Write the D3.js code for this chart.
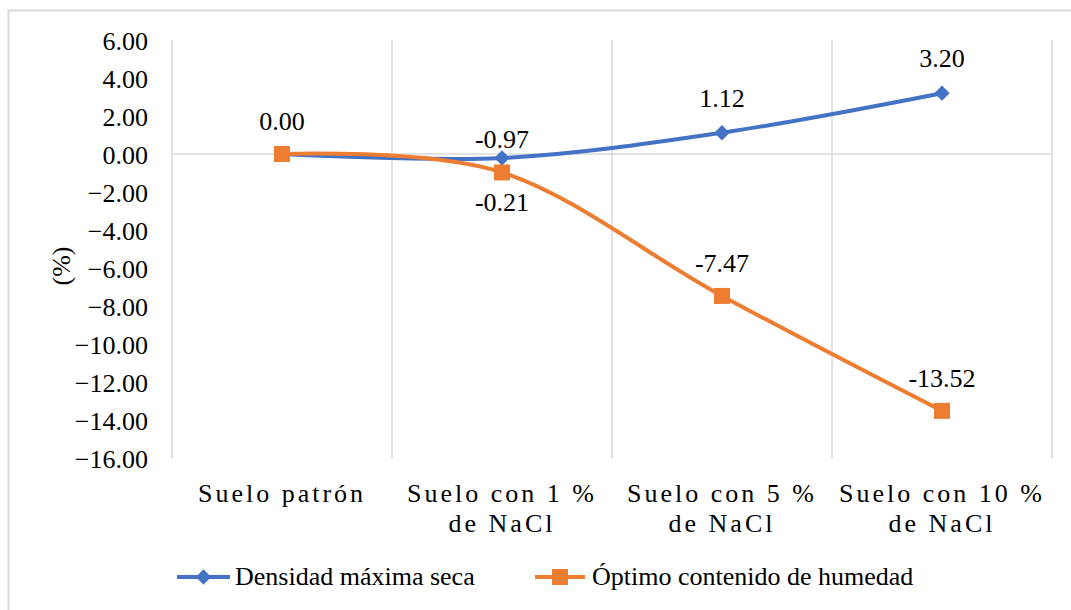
<!DOCTYPE html>
<html><head><meta charset="UTF-8"></head>
<body style="margin:0">
    <script src="https://d3js.org/d3.v7.min.js"></script>
    <svg width="1071" height="610"></svg>
    <script>
        let svg = d3.select("svg");

        // chart data
        let categories = ["Suelo patrón", "Suelo con 1 %|de NaCl", "Suelo con 5 %|de NaCl", "Suelo con 10 %|de NaCl"];
        let densidad = [0.00, -0.21, 1.12, 3.20];
        let humedad = [0.00, -0.97, -7.47, -13.52];
        let densidadLabels = ["0.00", "-0.21", "1.12", "3.20"];
        let humedadLabels = ["0.00", "-0.97", "-7.47", "-13.52"];
        let yTicks = [6, 4, 2, 0, -2, -4, -6, -8, -10, -12, -14, -16];
        let seriesNames = ["Densidad máxima seca", "Óptimo contenido de humedad"];

        let blue = "#4472C4", orange = "#ED7D31", grid = "#d9d9d9";

        // every text gets the same serif face (set on each element)
        function styleText(sel) {
            return sel.style("font-family", "Liberation Serif").style("font-size", "26px").style("fill", "#000");
        }

        // outer frame
        svg.append("rect")
            .attr("x", 8.5).attr("y", 10.5)
            .attr("width", 1100).attr("height", 700)
            .attr("fill", "none").attr("stroke", grid).attr("stroke-width", 2);

        let plotLeft = 172, plotRight = 1052, plotTop = 40, plotBottom = 458;

        let x = d3.scaleBand().domain(categories).range([plotLeft, plotRight]);
        let y = d3.scaleLinear().domain([-16, 6]).range([plotBottom, plotTop]);
        let cx = d => x(d) + x.bandwidth() / 2;

        // vertical gridlines at category boundaries
        let bounds = categories.map(c => x(c)).concat([plotRight]);
        svg.append("g").selectAll("line")
            .data(bounds).enter().append("line")
            .attr("x1", d => d).attr("x2", d => d)
            .attr("y1", plotTop).attr("y2", plotBottom)
            .attr("stroke", grid).attr("stroke-width", 1.5);

        // category axis line at zero
        svg.append("line")
            .attr("x1", plotLeft).attr("x2", plotRight)
            .attr("y1", y(0)).attr("y2", y(0))
            .attr("stroke", grid).attr("stroke-width", 1.5);

        // y axis labels
        let yAxis = svg.append("g")
            .attr("transform", `translate(148,0)`)
            .call(d3.axisLeft(y).tickValues(yTicks).tickSize(0).tickPadding(0).tickFormat(d3.format(".2f")));
        yAxis.select(".domain").remove();
        styleText(yAxis.selectAll("text")).attr("dy", "0.35em");

        // y title
        styleText(svg.append("text"))
            .attr("transform", "translate(70,266) rotate(-90)")
            .attr("text-anchor", "middle")
            .text("(%)");

        // category labels, two lines split on "|"
        categories.forEach(c => {
            c.split("|").forEach((p, i) => {
                styleText(svg.append("text"))
                    .attr("text-anchor", "middle")
                    .style("letter-spacing", "3px")
                    .attr("x", cx(c))
                    .attr("y", 502 + i * 30)
                    .text(p);
            });
        });

        let line = d3.line()
            .x((d, i) => cx(categories[i]))
            .y(d => y(d))
            .curve(d3.curveCardinal.tension(0));

        let diamond = d3.symbol().type(d3.symbolDiamond2).size(150);

        // densidad series
        svg.append("path")
            .attr("d", line(densidad))
            .attr("fill", "none").attr("stroke", blue).attr("stroke-width", 4);
        svg.append("g").selectAll("path")
            .data(densidad).enter().append("path")
            .attr("d", diamond)
            .attr("transform", (d, i) => `translate(${cx(categories[i])},${y(d)})`)
            .attr("fill", blue);

        // humedad series
        svg.append("path")
            .attr("d", line(humedad))
            .attr("fill", "none").attr("stroke", orange).attr("stroke-width", 4);
        svg.append("g").selectAll("rect")
            .data(humedad).enter().append("rect")
            .attr("x", (d, i) => cx(categories[i]) - 8)
            .attr("y", d => y(d) - 8)
            .attr("width", 16).attr("height", 16)
            .attr("fill", orange);

        // data labels: humedad above, densidad above except the 1 % point (below)
        humedad.forEach((d, i) => {
            styleText(svg.append("text"))
                .attr("text-anchor", "middle")
                .attr("x", cx(categories[i]))
                .attr("y", y(d) - 24)
                .text(humedadLabels[i]);
        });
        densidad.forEach((d, i) => {
            if (i == 0) return;
            styleText(svg.append("text"))
                .attr("text-anchor", "middle")
                .attr("x", cx(categories[i]))
                .attr("y", i == 1 ? y(d) + 53 : y(d) - 26)
                .text(densidadLabels[i]);
        });

        // legend
        svg.append("line").attr("x1", 177).attr("x2", 230).attr("y1", 577).attr("y2", 577)
            .attr("stroke", blue).attr("stroke-width", 4);
        svg.append("path").attr("d", diamond).attr("transform", "translate(203.5,577)").attr("fill", blue);
        styleText(svg.append("text")).attr("x", 235).attr("y", 585).text(seriesNames[0]);

        svg.append("line").attr("x1", 535).attr("x2", 585).attr("y1", 577).attr("y2", 577)
            .attr("stroke", orange).attr("stroke-width", 4);
        svg.append("rect").attr("x", 552).attr("y", 569).attr("width", 16).attr("height", 16).attr("fill", orange);
        styleText(svg.append("text")).attr("x", 592).attr("y", 585).text(seriesNames[1]);
    </script>
</body>
</html>
